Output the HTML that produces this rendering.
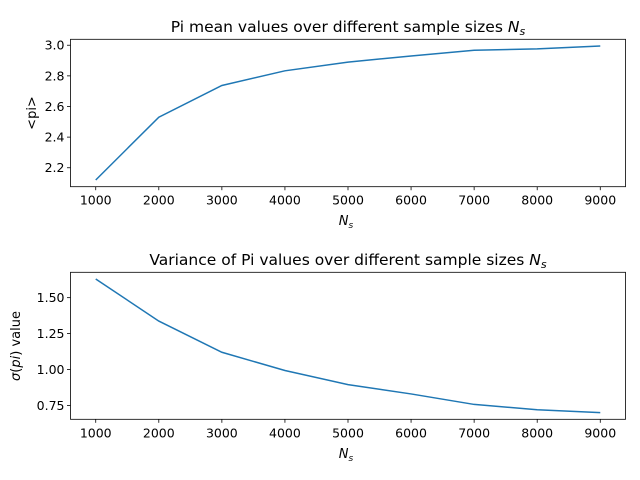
<!DOCTYPE html>
<html><head><meta charset="utf-8"><style>
body{margin:0;background:#fff;}
svg{display:block;font-family:"DejaVu Sans","Liberation Sans",sans-serif;}
</style></head><body>
<svg id="chart" width="640" height="480" viewBox="0 0 640 480" xmlns="http://www.w3.org/2000/svg"></svg>
<script>
const xCats = [1000,2000,3000,4000,5000,6000,7000,8000,9000];
const meanValues = [2.12,2.53,2.737,2.833,2.89,2.93,2.967,2.976,2.995];
const varValues = [1.63,1.337,1.12,0.993,0.895,0.83,0.757,0.72,0.70];
const xTicks = [1000,2000,3000,4000,5000,6000,7000,8000,9000];
const meanTicks = [2.2,2.4,2.6,2.8,3.0];
const meanTickLabels = ["2.2","2.4","2.6","2.8","3.0"];
const varTicks = [0.75,1.00,1.25,1.50];
const varTickLabels = ["0.75","1.00","1.25","1.50"];

const svg = document.getElementById('chart');
const NS = 'http://www.w3.org/2000/svg';
function mk(tag, attrs, parent){const e=document.createElementNS(NS,tag);for(const k in attrs)e.setAttribute(k,attrs[k]);(parent||svg).appendChild(e);return e;}

function panel(opt){
  const L=70.5,R=625.5,T=opt.top,B=opt.bottom;
  const g=mk('g',{});
  
  
  const xmin=Math.min(...xCats),xmax=Math.max(...xCats),xm=(xmax-xmin)*0.05;
  const vals=opt.values;
  const ymin=Math.min(...vals),ymax=Math.max(...vals),ym=(ymax-ymin)*0.05;
  const xs=v=>L+(v-(xmin-xm))/((xmax+xm)-(xmin-xm))*(R-L);
  const ys=v=>B-(v-(ymin-ym))/((ymax+ym)-(ymin-ym))*(B-T);
  xTicks.forEach(t=>{
    const x=xs(t);
    const tk=mk('line',{x1:x,x2:x,y1:B,y2:B+3.5,stroke:'#000','stroke-width':0.8},g);
    
    
    const tl=mk('text',{x:x,y:B+18,'font-size':12.5,'text-anchor':'middle',fill:'#000'},g);
    tl.textContent=String(t);
    
    
  });
  opt.ticks.forEach((t,i)=>{
    const y=ys(t);
    const tk=mk('line',{x1:L-3.5,x2:L,y1:y,y2:y,stroke:'#000','stroke-width':0.8},g);
    
    
    const tl=mk('text',{x:L-6,y:y+4.5,'font-size':12.5,'text-anchor':'end',fill:'#000'},g);
    tl.textContent=opt.labels[i];
    
    
  });
  const pts=xCats.map((c,i)=>xs(c).toFixed(2)+','+ys(vals[i]).toFixed(2)).join(' ');
  const line=mk('polyline',{points:pts,fill:'none',stroke:'#1f77b4','stroke-width':1.5},g);
  
  
  const frame=mk('rect',{x:L,y:T,width:R-L,height:B-T,fill:'none',stroke:'#000','stroke-width':0.8},g);
  
  
}
panel({name:'mean-panel',top:39.3,bottom:186.7,values:meanValues,ticks:meanTicks,labels:meanTickLabels});
panel({name:'variance-panel',top:272.3,bottom:419.3,values:varValues,ticks:varTicks,labels:varTickLabels});
</script>
<script>
(function(){
const svg=document.getElementById('chart');
svg.insertAdjacentHTML('beforeend',`
<text x="348" y="32" font-size="15.5" text-anchor="middle">Pi mean values over different sample sizes <tspan font-style="italic">N</tspan><tspan font-style="italic" font-size="11" dy="3">s</tspan></text>
<text x="346" y="225" font-size="13" text-anchor="middle" font-style="italic">N<tspan font-size="9" dy="3">s</tspan></text>
<text transform="translate(36,113) rotate(-90)" font-size="13" text-anchor="middle">&lt;pi&gt;</text>
<text x="348" y="265" font-size="15.5" text-anchor="middle">Variance of Pi values over different sample sizes <tspan font-style="italic">N</tspan><tspan font-style="italic" font-size="11" dy="3">s</tspan></text>
<text x="346" y="458" font-size="13" text-anchor="middle" font-style="italic">N<tspan font-size="9" dy="3">s</tspan></text>
<text transform="translate(20,346) rotate(-90)" font-size="13" text-anchor="middle"><tspan font-style="italic">σ</tspan>(<tspan font-style="italic">pi</tspan>) value</text>
`);
})();
</script>
</body></html>
